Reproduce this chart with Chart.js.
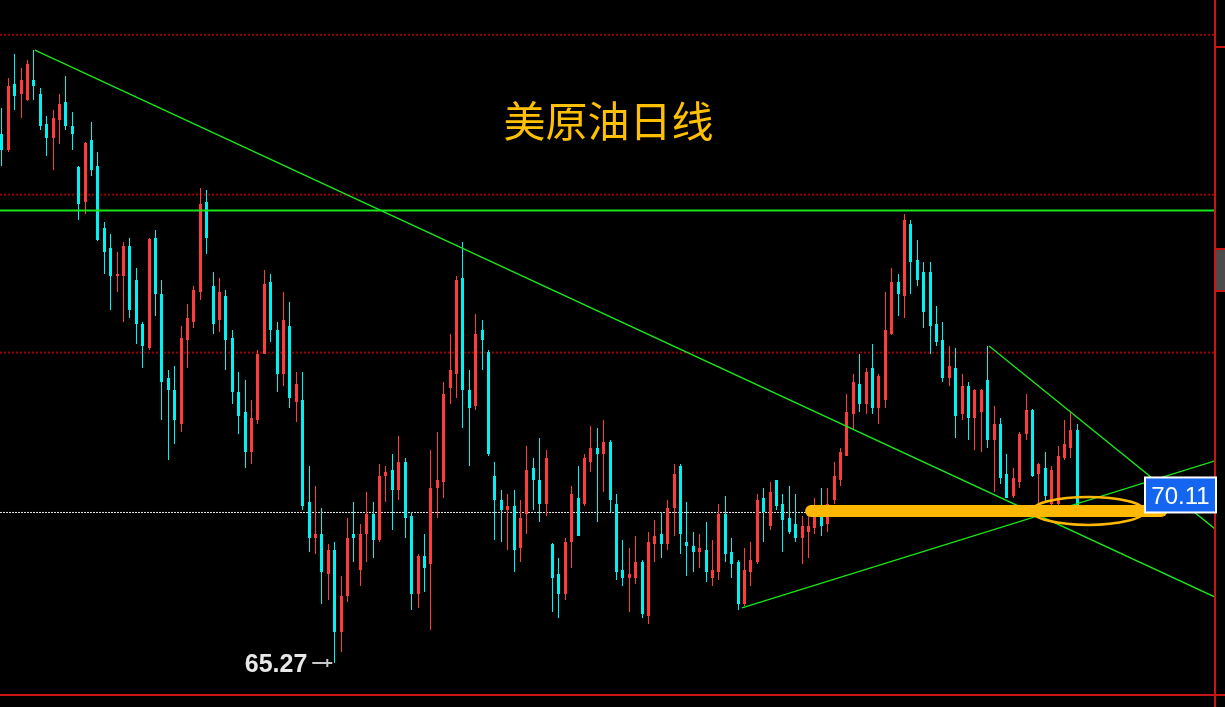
<!DOCTYPE html>
<html>
<head>
<meta charset="utf-8">
<title>美原油日线</title>
<script src="https://cdn.jsdelivr.net/npm/chart.js@4.4.1/dist/chart.umd.min.js"></script>
<style>
  html, body { margin: 0; padding: 0; background: #000; }
  #wrap { width: 1225px; height: 707px; position: relative; }
</style>
</head>
<body>
<div id="wrap"><canvas id="chart-oil"></canvas></div>
<script>
// daily candles (price)
const opens = [82.28,81.77,83.89,83.57,83.37,84.02,83.57,82.60,82.15,82.73,
  83.31,82.54,81.22,80.09,82.09,81.25,79.26,78.61,77.71,77.71,
  78.68,77.59,76.17,75.40,78.94,77.14,74.43,74.05,72.96,75.66,
  76.24,77.20,80.09,77.39,76.30,77.07,75.72,73.98,73.34,72.06,
  73.08,75.21,77.52,75.98,74.56,76.11,73.66,73.73,70.45,69.29,
  69.42,68.13,68.90,66.27,67.42,69.42,68.26,69.42,70.06,69.23,
  71.28,71.48,70.83,71.73,70.00,67.49,68.71,68.45,70.90,71.09,
  74.11,74.56,77.65,74.05,73.53,75.98,75.27,71.28,70.51,70.19,
  70.32,68.97,70.06,71.54,71.16,70.38,69.10,68.13,67.49,69.16,
  70.58,70.38,71.73,72.18,71.99,72.38,70.38,68.26,68.00,68.00,
  68.52,66.78,69.10,69.42,69.10,70.25,71.60,69.16,69.03,68.84,
  68.90,68.00,68.20,70.06,68.84,68.52,67.17,68.20,68.52,70.58,
  69.68,71.14,70.38,69.93,69.74,69.29,69.48,69.61,70.00,69.74,
  70.51,71.16,71.93,73.28,74.24,73.60,74.76,73.47,73.73,75.85,
  77.52,77.07,79.39,78.23,77.84,77.84,76.17,75.66,74.43,74.76,
  73.28,74.18,73.15,73.34,74.37,72.44,72.96,71.35,70.64,71.09,
  72.63,73.41,71.35,71.54,70.38,70.38,71.86,72.18,72.76];
const highs = [83.12,84.08,84.85,84.40,84.66,84.98,83.76,82.86,83.05,83.57,
  84.15,82.99,81.25,82.02,82.67,81.70,79.45,79.07,78.49,78.81,
  78.94,77.97,76.24,78.94,79.19,77.59,74.69,74.82,76.11,76.81,
  77.39,80.54,80.48,77.84,77.65,77.26,75.98,74.63,74.37,73.73,
  75.34,77.91,77.78,76.24,77.20,76.88,74.63,74.63,71.60,70.96,
  70.25,69.10,69.16,68.07,69.93,70.45,69.74,70.77,70.45,71.67,
  71.60,71.99,72.57,71.86,70.13,68.78,69.42,72.12,72.70,74.31,
  75.85,77.71,78.81,74.69,76.49,76.30,75.34,71.73,70.83,70.70,
  70.83,70.51,72.25,71.86,72.50,72.12,69.12,68.65,69.29,70.96,
  71.60,71.99,72.89,72.83,73.08,72.44,70.70,69.23,68.97,69.36,
  68.58,69.48,69.87,70.13,70.51,71.67,71.67,70.45,69.48,69.42,
  69.80,69.23,70.38,70.64,69.29,68.58,68.97,69.16,70.70,70.90,
  71.09,71.16,70.70,70.96,70.70,70.00,70.13,70.58,70.90,70.90,
  71.73,72.18,73.92,74.56,75.21,74.76,75.53,74.56,77.20,77.97,
  77.78,79.71,79.52,78.87,78.16,78.16,76.75,76.24,75.46,75.40,
  74.56,74.31,74.07,74.07,75.46,73.53,73.15,71.99,71.54,72.70,
  73.92,73.43,71.69,72.06,71.60,72.25,73.08,73.34,72.96];
const lows = [81.25,81.70,83.05,82.80,83.35,83.37,82.41,81.57,81.12,81.96,
  82.41,81.77,79.52,79.71,80.93,78.85,77.78,76.62,77.20,76.24,
  76.36,75.53,74.76,75.34,76.43,73.08,71.80,72.31,72.70,74.76,
  76.04,76.94,78.42,75.85,75.91,74.69,73.60,72.63,71.54,71.67,
  72.96,75.19,75.59,73.98,74.18,73.47,73.02,70.19,68.84,68.78,
  67.17,67.30,65.27,65.62,67.23,68.52,67.75,68.52,68.65,69.16,
  70.45,69.55,70.51,69.29,66.98,67.04,67.55,66.33,69.93,70.58,
  73.60,73.79,72.83,71.60,73.41,74.69,71.93,69.23,69.16,68.90,
  68.20,68.52,69.42,70.19,69.80,70.00,66.91,66.72,67.30,68.33,
  69.34,70.32,71.41,69.80,70.77,70.13,67.94,67.75,66.91,67.81,
  66.72,66.52,68.52,68.65,68.90,69.36,68.78,68.07,68.20,68.33,
  67.88,67.75,67.94,68.52,68.00,66.98,67.10,67.75,68.45,69.16,
  69.55,70.19,68.84,69.42,69.16,68.45,68.65,69.42,69.36,69.48,
  70.38,70.96,71.91,72.76,73.34,73.28,73.28,72.96,73.47,75.83,
  76.43,76.36,77.14,77.39,76.04,75.21,75.46,74.31,74.18,72.50,
  73.08,72.44,72.12,72.06,72.18,70.77,71.03,70.56,70.58,70.90,
  72.44,71.26,70.32,70.45,70.32,70.25,71.80,71.86,70.11];
const closes = [81.77,83.82,83.50,84.02,84.53,83.82,82.54,82.15,82.80,83.25,
  82.54,82.28,80.03,82.00,81.12,78.87,78.49,77.71,77.78,78.68,
  76.62,76.17,75.46,78.92,77.14,74.31,74.05,73.08,75.72,76.36,
  77.26,80.03,78.94,76.17,77.20,75.66,73.98,73.21,72.06,73.15,
  75.21,77.46,75.98,74.56,76.30,73.79,74.24,70.32,69.29,69.42,
  68.20,68.90,66.27,67.42,69.29,69.29,69.42,70.06,69.23,71.28,
  71.41,70.83,71.73,69.93,67.49,68.71,68.33,70.90,71.16,73.92,
  74.69,77.59,74.05,73.47,75.85,75.66,71.99,70.51,70.19,70.32,
  68.90,69.93,71.48,71.16,70.38,71.86,68.00,67.49,69.16,70.70,
  69.36,71.86,72.18,71.99,72.38,70.51,68.20,68.00,68.13,68.52,
  66.85,69.16,69.36,69.10,70.25,71.35,69.42,69.03,68.84,68.97,
  68.20,68.26,70.06,68.78,68.45,67.17,68.26,68.58,70.51,70.13,
  70.77,70.32,69.87,69.48,69.29,69.68,69.68,70.00,69.68,70.38,
  71.28,72.06,73.34,74.31,73.60,74.63,73.47,74.50,75.98,77.52,
  77.14,79.52,78.16,77.59,76.56,76.11,75.59,74.43,74.82,73.21,
  74.18,73.15,74.05,74.05,72.44,72.96,71.22,70.58,71.22,72.63,
  73.41,71.28,71.67,70.64,71.48,71.93,72.31,72.76,70.11];

// levels and drawn lines (candle index, price)
const gridLevels = [85.47, 80.33, 75.25];
const lastPrice = 70.11;
const resistLevel = 79.82;
const trendDownX = [5.23, 189.6];
const trendDownY = [84.98, 67.39];
const trendUpX = [115.7, 189.6];
const trendUpY = [67.04, 71.77];
const trendShortX = [154.3, 189.6];
const trendShortY = [75.46, 69.58];
const supportX = [126.5, 181.2];
const supportY = 70.16;
const circleX = 169.8, circleDX = 8.75, circleDY = 0.45;
const lowIndex = 52;

const xMin = -0.23, xMax = 189.6;
const red = '#ff3c3c';
const cyan = '#00f2f2';
const green = '#1ae61a';
const gold = '#ffb800';

const idx = opens.map((_, i) => i);
const candleColors = idx.map(i => closes[i] >= opens[i] ? red : cyan);

function flatLine(y) {
  return [{ x: xMin, y: y }, { x: xMax, y: y }];
}
function pairLine(xs, ys) {
  return xs.map((x, i) => ({ x: x, y: ys[i] }));
}

const lineStyle = { type: 'line', pointRadius: 0, fill: false, tension: 0 };

const datasets = [];
gridLevels.forEach(g => {
  datasets.push({ ...lineStyle, data: flatLine(g), borderColor: '#960000', borderWidth: 2, borderDash: [2, 2], order: 10 });
});
datasets.push({ ...lineStyle, data: flatLine(lastPrice), borderColor: '#e8e8e8', borderWidth: 1, borderDash: [2, 1], order: 9 });
datasets.push({
  type: 'bar', grouped: false, barThickness: 1, inflateAmount: 0, order: 8,
  data: idx.map(i => ({ x: i, y: [lows[i], highs[i]] })),
  backgroundColor: candleColors
});
datasets.push({
  type: 'bar', grouped: false, barThickness: 3, minBarLength: 1, inflateAmount: 0, order: 7,
  data: idx.map(i => ({ x: i, y: [opens[i], closes[i]] })),
  backgroundColor: candleColors
});
datasets.push({ ...lineStyle, data: flatLine(resistLevel), borderColor: green, borderWidth: 2, order: 5 });
datasets.push({ ...lineStyle, data: pairLine(trendDownX, trendDownY), borderColor: green, borderWidth: 1.3, order: 5 });
datasets.push({ ...lineStyle, data: pairLine(trendUpX, trendUpY), borderColor: green, borderWidth: 1.3, order: 5 });
datasets.push({ ...lineStyle, data: pairLine(trendShortX, trendShortY), borderColor: green, borderWidth: 1.3, order: 5 });
datasets.push({ ...lineStyle, data: [{ x: supportX[0], y: supportY }, { x: supportX[1], y: supportY }],
  borderColor: gold, borderWidth: 12, borderCapStyle: 'round', order: 1 });

// snap the candle rectangles to whole pixels so they stay crisp
const snapBars = {
  id: 'snapBars',
  beforeDatasetsDraw(chart) {
    chart.data.datasets.forEach((ds, d) => {
      if (ds.type !== 'bar') return;
      chart.getDatasetMeta(d).data.forEach(el => {
        el.x = Math.ceil(el.x - 1.5) + 1.5;
        el.y = Math.round(el.y);
        el.base = Math.round(el.base);
        if (el.y === el.base) el.base = el.y + 1;
      });
    });
  }
};

const marks = {
  id: 'marks',
  afterDatasetsDraw(chart) {
    const ctx = chart.ctx;
    const xs = chart.scales.x, ys = chart.scales.y;
    const area = chart.chartArea;
    ctx.save();

    // ellipse round the last bars
    const cx = xs.getPixelForValue(circleX);
    const cy = ys.getPixelForValue(supportY);
    const rx = xs.getPixelForValue(circleX + circleDX) - cx;
    const ry = ys.getPixelForValue(supportY - circleDY) - cy;
    ctx.strokeStyle = gold;
    ctx.lineWidth = 2.5;
    ctx.beginPath();
    ctx.ellipse(cx, cy, rx, ry, 0, 0, Math.PI * 2);
    ctx.stroke();

    // frame
    ctx.fillStyle = '#c81414';
    ctx.fillRect(area.right - 1, 0, 2, chart.height);
    ctx.fillRect(0, area.bottom - 1, chart.width, 2);
    ctx.fillRect(area.right, 46, chart.width - area.right, 2);
    ctx.fillRect(area.right, 248, chart.width - area.right, 2);
    ctx.fillRect(area.right, 290, chart.width - area.right, 2);
    ctx.fillStyle = '#4b4b4b';
    ctx.fillRect(area.right + 1, 250, chart.width - area.right, 40);

    // title
    ctx.fillStyle = '#ffc000';
    ctx.font = '42px "Noto Sans CJK SC"';
    ctx.textAlign = 'center';
    ctx.textBaseline = 'middle';
    ctx.fillText('美原油日线', (area.left + area.right) / 2 + 1, 121);

    // low marker
    const lx = xs.getPixelForValue(lowIndex);
    const ly = ys.getPixelForValue(lows[lowIndex]);
    ctx.strokeStyle = '#c8c8c8';
    ctx.lineWidth = 2;
    ctx.beginPath();
    ctx.moveTo(lx - 22, ly);
    ctx.lineTo(lx - 2, ly);
    ctx.moveTo(lx - 7, ly - 4);
    ctx.lineTo(lx - 7, ly + 4);
    ctx.stroke();
    ctx.fillStyle = '#e8e8e8';
    ctx.font = 'bold 25px "Liberation Sans"';
    ctx.textAlign = 'right';
    ctx.textBaseline = 'alphabetic';
    ctx.fillText(lows[lowIndex].toFixed(2), lx - 27, ly + 9);

    // last price box
    const py = ys.getPixelForValue(lastPrice);
    const bx = area.right - 71, by = py - 36;
    ctx.fillStyle = '#ffffff';
    ctx.fillRect(bx, by, 73, 37);
    ctx.fillStyle = '#1466f0';
    ctx.fillRect(bx + 2, by + 2, 69, 33);
    ctx.fillStyle = '#ffffff';
    ctx.font = '24px "Liberation Sans"';
    ctx.textAlign = 'center';
    ctx.fillText(lastPrice.toFixed(2), bx + 36.5, by + 28);

    ctx.restore();
  }
};

new Chart(document.getElementById('chart-oil'), {
  type: 'bar',
  data: { datasets: datasets },
  options: {
    responsive: true,
    maintainAspectRatio: false,
    animation: false,
    events: [],
    layout: { padding: { left: 0, top: 0, right: 10, bottom: 12 } },
    plugins: { legend: { display: false }, tooltip: { enabled: false }, title: { display: false } },
    scales: {
      x: { type: 'linear', min: xMin, max: xMax, offset: false, display: false },
      y: { type: 'linear', min: 64.24, max: 86.59, display: false }
    }
  },
  plugins: [snapBars, marks]
});
</script>
</body>
</html>
